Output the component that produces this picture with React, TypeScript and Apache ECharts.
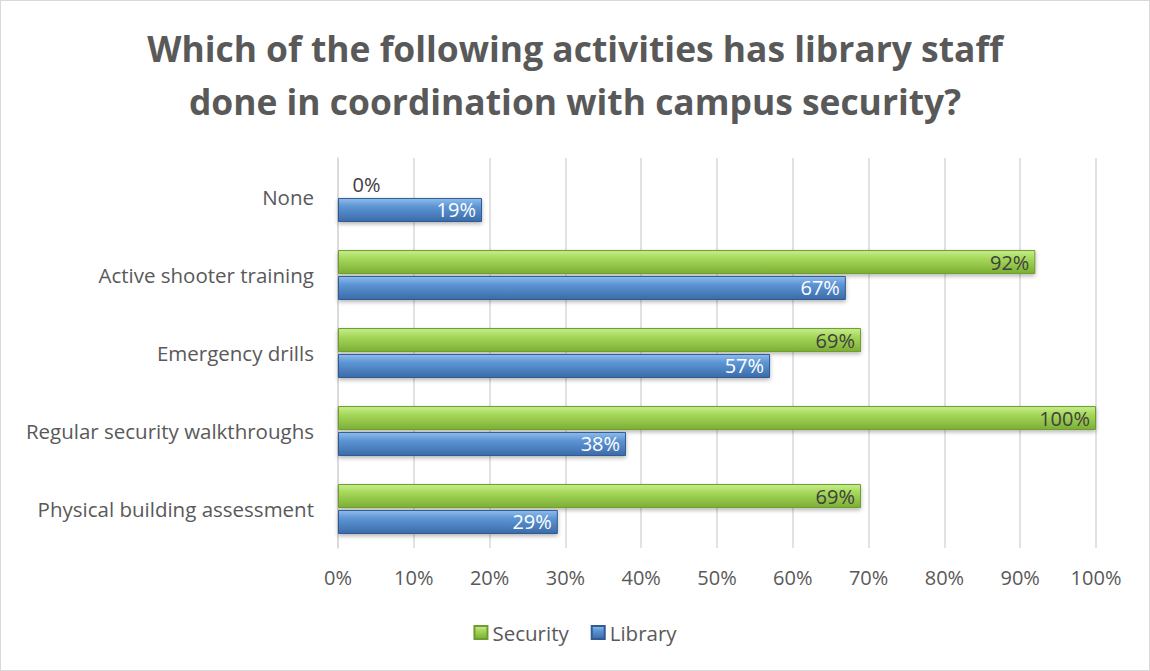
import React, { useEffect, useRef } from "react";
import * as echarts from "echarts";

const categories = [
  "None",
  "Active shooter training",
  "Emergency drills",
  "Regular security walkthroughs",
  "Physical building assessment",
];
const securityValues = [0, 92, 69, 100, 69];
const libraryValues = [19, 67, 57, 38, 29];
const xTicks = [0, 10, 20, 30, 40, 50, 60, 70, 80, 90, 100];

const FONT = "'Open Sans', 'Noto Sans', sans-serif";

const greenFill = new echarts.graphic.LinearGradient(0, 0, 0, 1, [
  { offset: 0, color: "#c8ee8e" },
  { offset: 0.35, color: "#a5d85a" },
  { offset: 1, color: "#7cae34" },
]);
const blueFill = new echarts.graphic.LinearGradient(0, 0, 0, 1, [
  { offset: 0, color: "#8fbdea" },
  { offset: 0.35, color: "#5d95d4" },
  { offset: 1, color: "#3b6ba9" },
]);

export default function App() {
  const ref = useRef<HTMLDivElement>(null);
  useEffect(() => {
    document.body.style.margin = "0";
    const chart = echarts.init(ref.current!, null, { renderer: "svg" });
    chart.setOption({
      animation: false,
      backgroundColor: "#ffffff",
      title: {
        text: "Which of the following activities has library staff\ndone in coordination with campus security?",
        left: "center",
        top: 15,
        textStyle: {
          fontFamily: FONT,
          fontWeight: "bold",
          fontSize: 35.4,
          color: "#595959",
          lineHeight: 53,
        },
      },
      legend: {
        bottom: 22,
        left: "center",
        itemWidth: 13,
        itemHeight: 13,
        itemGap: 22,
        itemTextGap: 6,
        textStyle: { fontFamily: FONT, fontSize: 20.5, color: "#595959" },
        data: [
          { name: "Security", icon: "rect" },
          { name: "Library", icon: "rect" },
        ],
      },
      grid: { left: 337, right: 53, top: 157, bottom: 122, containLabel: false },
      xAxis: {
        type: "value",
        min: 0,
        max: 100,
        interval: 10,
        axisLine: { show: false },
        axisTick: { show: false },
        splitLine: { show: true, lineStyle: { color: "#d9d9d9", width: 1.5 } },
        axisLabel: {
          fontFamily: FONT,
          fontSize: 20,
          color: "#595959",
          margin: 19,
          formatter: (v: number) => (xTicks.includes(v) ? v + "%" : ""),
        },
      },
      yAxis: {
        type: "category",
        inverse: true,
        data: categories,
        axisLine: { show: true, lineStyle: { color: "#d9d9d9", width: 1.5 } },
        axisTick: { show: false },
        axisLabel: { fontFamily: FONT, fontSize: 20.5, color: "#595959", margin: 24 },
      },
      series: [
        {
          name: "Security",
          type: "bar",
          barWidth: 24,
          barGap: "8%",
          data: securityValues.map((v) =>
            v === 0
              ? { value: v, label: { position: "right", distance: 14 } }
              : v
          ),
          itemStyle: {
            color: greenFill,
            borderColor: "#6f9c2f",
            borderWidth: 1,
            shadowBlur: 4,
            shadowOffsetY: 2,
            shadowColor: "rgba(0,0,0,0.3)",
          },
          label: {
            show: true,
            position: "insideRight",
            distance: 6,
            fontFamily: FONT,
            fontSize: 20,
            color: "#404040",
            formatter: "{c}%",
          },
        },
        {
          name: "Library",
          type: "bar",
          barWidth: 24,
          barGap: "8%",
          data: libraryValues,
          itemStyle: {
            color: blueFill,
            borderColor: "#2f5a94",
            borderWidth: 1,
            shadowBlur: 4,
            shadowOffsetY: 2,
            shadowColor: "rgba(0,0,0,0.3)",
          },
          label: {
            show: true,
            position: "insideRight",
            distance: 6,
            fontFamily: FONT,
            fontSize: 20,
            color: "#ffffff",
            formatter: "{c}%",
          },
        },
      ],
    });
    return () => chart.dispose();
  }, []);
  return (
    <div
      ref={ref}
      style={{
        width: 1150,
        height: 671,
        boxSizing: "border-box",
        border: "1.5px solid #d9d9d9",
      }}
    />
  );
}
